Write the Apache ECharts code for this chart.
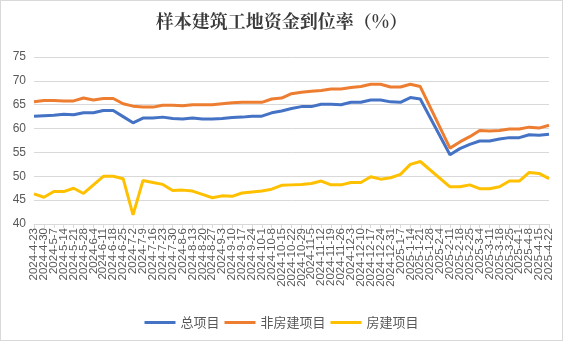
<!DOCTYPE html>
<html>
<head>
<meta charset="utf-8">
<script src="https://cdn.jsdelivr.net/npm/echarts@6/dist/echarts.min.js"></script>
<style>
  html, body { margin: 0; padding: 0; background: #fff; }
  #chart { width: 561px; height: 339px; border: 1px solid #d9d9d9; box-sizing: content-box; }
</style>
</head>
<body>
<div id="chart"></div>
<script>
// Weekly observation dates
const dates = [
  '2024-4-23','2024-4-30','2024-5-7','2024-5-14','2024-5-21','2024-5-28','2024-6-4','2024-6-11',
  '2024-6-18','2024-6-25','2024-7-2','2024-7-9','2024-7-16','2024-7-23','2024-7-30','2024-8-6',
  '2024-8-13','2024-8-20','2024-8-27','2024-9-3','2024-9-10','2024-9-17','2024-9-24','2024-10-1',
  '2024-10-8','2024-10-15','2024-10-22','2024-10-29','2024-11-5','2024-11-12','2024-11-19','2024-11-26',
  '2024-12-3','2024-12-10','2024-12-17','2024-12-24','2024-12-31','2025-1-7','2025-1-14','2025-1-21',
  '2025-1-28','2025-2-4','2025-2-11','2025-2-18','2025-2-25','2025-3-4','2025-3-11','2025-3-18',
  '2025-3-25','2025-4-1','2025-4-8','2025-4-15','2025-4-22'
];

// 总项目
const totalRate = [
  62.6, 62.7, 62.8, 63.0, 62.9, 63.3, 63.3, 63.8, 63.8, 62.5, 61.2, 62.2, 62.2, 62.4, 62.1, 62.0,
  62.2, 62.0, 62.0, 62.1, 62.3, 62.4, 62.6, 62.6, 63.3, 63.7, 64.2, 64.6, 64.6, 65.1, 65.1, 65.0,
  65.5, 65.5, 66.0, 66.0, 65.6, 65.5, 66.5, 66.2, null, null, 54.5, 55.8, 56.7, 57.4, 57.4, 57.8,
  58.1, 58.1, 58.7, 58.6, 58.8
];

// 非房建项目
const nonHousingRate = [
  65.6, 65.9, 65.9, 65.8, 65.8, 66.4, 66.0, 66.3, 66.3, 65.2, 64.7, 64.5, 64.5, 64.9, 64.9, 64.8,
  65.0, 65.0, 65.0, 65.2, 65.4, 65.5, 65.5, 65.5, 66.2, 66.4, 67.3, 67.6, 67.8, 68.0, 68.3, 68.3,
  68.6, 68.8, 69.3, 69.3, 68.7, 68.7, 69.3, 68.8, null, null, 55.9, 57.2, 58.3, 59.6, 59.5, 59.6,
  59.9, 59.9, 60.3, 60.1, 60.7
];

// 房建项目
const housingRate = [
  46.3, 45.6, 46.8, 46.8, 47.5, 46.4, 48.2, 50.0, 50.0, 49.5, 41.9, 49.1, 48.7, 48.3, 47.0, 47.1,
  46.9, 46.2, 45.5, 45.9, 45.8, 46.5, 46.7, 46.9, 47.3, 48.1, 48.2, 48.3, 48.5, 49.0, 48.2, 48.2,
  48.7, 48.7, 49.9, 49.4, 49.7, 50.4, 52.5, 53.1, null, null, 47.8, 47.8, 48.2, 47.4, 47.4, 47.8,
  49.0, 49.0, 50.8, 50.6, 49.5
];

const seriesNames = ['总项目', '非房建项目', '房建项目'];
const seriesColors = ['#4472C4', '#ED7D31', '#FFC000'];
const seriesData = [totalRate, nonHousingRate, housingRate];

const chart = echarts.init(document.getElementById('chart'), null, { renderer: 'canvas' });

chart.setOption({
  animation: false,
  backgroundColor: '#fff',
  title: {
    text: '样本建筑工地资金到位率（%）',
    left: 'center',
    top: 6,
    textStyle: {
      fontFamily: '"Noto Serif CJK SC", "Noto Sans CJK SC", serif',
      fontSize: 18,
      fontWeight: 'bold',
      color: '#3a3a3a'
    }
  },
  legend: {
    data: seriesNames,
    left: 'center',
    top: 310,
    icon: 'rect',
    itemWidth: 31,
    itemHeight: 3,
    itemGap: 5,
    textStyle: {
      fontFamily: '"Noto Sans CJK SC", sans-serif',
      fontSize: 13,
      color: '#595959'
    }
  },
  grid: {
    left: 33,
    right: 13,
    top: 56,
    bottom: 116,
    containLabel: false
  },
  xAxis: {
    type: 'category',
    data: dates,
    boundaryGap: false,
    axisLine: { lineStyle: { color: '#d9d9d9' } },
    axisTick: { show: true, alignWithLabel: true, interval: 0, length: 4, lineStyle: { color: '#d9d9d9' } },
    axisLabel: {
      interval: 0,
      rotate: 90,
      margin: 4,
      fontFamily: 'Arial, "Liberation Sans", sans-serif',
      fontSize: 11.5,
      color: '#595959'
    }
  },
  yAxis: {
    type: 'value',
    min: 40,
    max: 75,
    interval: 5,
    axisLine: { show: false },
    axisTick: { show: false },
    axisLabel: {
      margin: 8,
      fontFamily: 'Arial, "Liberation Sans", sans-serif',
      fontSize: 12,
      color: '#595959'
    },
    splitLine: { lineStyle: { color: '#d9d9d9', width: 1 } }
  },
  series: seriesNames.map((name, k) => ({
    name: name,
    type: 'line',
    data: seriesData[k],
    connectNulls: true,
    showSymbol: false,
    symbol: 'none',
    lineStyle: { width: 3, color: seriesColors[k] },
    itemStyle: { color: seriesColors[k] }
  }))
});
</script>
</body>
</html>
